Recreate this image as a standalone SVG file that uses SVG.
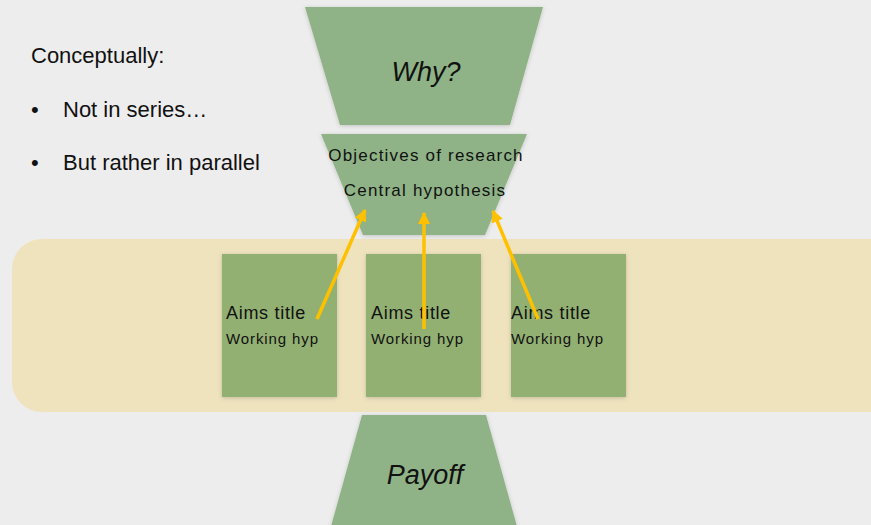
<svg xmlns="http://www.w3.org/2000/svg" width="871" height="525" viewBox="0 0 871 525">
  <defs>
    <filter id="soft" x="-10%" y="-10%" width="120%" height="120%">
      <feDropShadow dx="0" dy="1" stdDeviation="2" flood-color="#000" flood-opacity="0.18"/>
    </filter>
    <marker id="head" viewBox="0 0 10 10" refX="9" refY="5" markerWidth="3.5" markerHeight="3.5" orient="auto" markerUnits="strokeWidth">
      <path d="M0,0 L10,5 L0,10 Z" fill="#ffc000"/>
    </marker>
  </defs>
  <style>
    .funnel { fill: #8fb386; filter: url(#soft); }
    .aim { fill: #93b073; filter: url(#soft); }
    .txt { font-family: "Liberation Sans", Arial, sans-serif; fill: #111; }
    .big { font-size: 27px; font-style: italic; text-anchor: middle; }
    .mid { font-size: 17px; letter-spacing: 1.2px; text-anchor: middle; }
    .title { font-size: 18px; letter-spacing: 0.7px; }
    .hyp { font-size: 15px; letter-spacing: 0.9px; }
    .side { font-size: 22px; }
    .link { stroke: #ffc000; stroke-width: 3.5; fill: none; marker-end: url(#head); }
  </style>

  <rect width="871" height="525" fill="#ededed"/>

  <!-- side notes -->
  <g id="notes" class="txt side">
    <text x="31" y="63">Conceptually:</text>
    <text x="31" y="117">•</text>
    <text x="63" y="117">Not in series…</text>
    <text x="31" y="170">•</text>
    <text x="63" y="170">But rather in parallel</text>
  </g>

  <!-- band holding the aims -->
  <rect id="band" x="12" y="239" width="890" height="173" rx="30" ry="30" fill="#efe3be"/>

  <g id="why">
    <polygon class="funnel" points="305,7 543,7 510,125 340,125"/>
    <text class="txt big" x="426" y="81">Why?</text>
  </g>

  <g id="objectives">
    <polygon class="funnel" points="321,134 527,134 485,235 363,235"/>
    <text class="txt mid" x="426" y="161">Objectives of research</text>
    <text class="txt mid" x="425" y="196">Central hypothesis</text>
  </g>

  <g id="aim1">
    <rect class="aim" x="222" y="254" width="115" height="143"/>
    <text class="txt title" x="226" y="319">Aims title</text>
    <text class="txt hyp" x="226" y="344">Working hyp</text>
  </g>
  <g id="aim2">
    <rect class="aim" x="366" y="254" width="115" height="143"/>
    <text class="txt title" x="371" y="319">Aims title</text>
    <text class="txt hyp" x="371" y="344">Working hyp</text>
  </g>
  <g id="aim3">
    <rect class="aim" x="511" y="254" width="115" height="143"/>
    <text class="txt title" x="511" y="319">Aims title</text>
    <text class="txt hyp" x="511" y="344">Working hyp</text>
  </g>

  <g id="payoff">
    <polygon class="funnel" points="362,415 486,415 518,530 330,530"/>
    <text class="txt big" x="425" y="484">Payoff</text>
  </g>

  <g id="connectors">
    <line class="link" x1="317" y1="319" x2="365" y2="210"/>
    <line class="link" x1="424" y1="329" x2="424" y2="213"/>
    <line class="link" x1="538" y1="319" x2="493" y2="211"/>
  </g>
</svg>
